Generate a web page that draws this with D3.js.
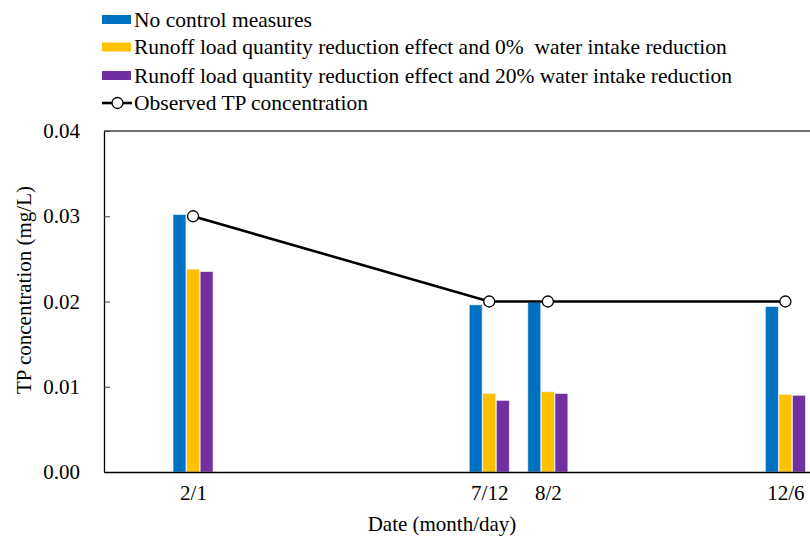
<!DOCTYPE html>
<html>
<head>
<meta charset="utf-8">
<script src="https://cdn.jsdelivr.net/npm/d3@7"></script>
<style>
  body { margin: 0; background: #fff; }
</style>
</head>
<body>
<svg></svg>
<script>
// data
var dateLabels = ["2/1", "7/12", "8/2", "12/6"];
// where each date sits along the axis (in days)
var datePos = [32, 186, 216.5, 340];
var noControl = [0.0302, 0.0196, 0.0199, 0.0194];
var reduce0 = [0.0238, 0.0092, 0.0094, 0.0091];
var reduce20 = [0.0235, 0.0084, 0.0092, 0.0090];
var observed = [0.03, 0.02, 0.02, 0.02];
var yTicks = [0, 0.01, 0.02, 0.03, 0.04];

var seriesNames = [
  "No control measures",
  "Runoff load quantity reduction effect and 0%  water intake reduction",
  "Runoff load quantity reduction effect and 20% water intake reduction"
];
var seriesColors = ["#0070C0", "#FFC000", "#7030A0"];
var seriesValues = [noControl, reduce0, reduce20];
var lineName = "Observed TP concentration";

var svgWidth = 810, svgHeight = 540, fontSize = 21, legendFont = 21.5;
var serif = "'Liberation Serif', 'Times New Roman', Times, 'DejaVu Serif', serif";
var plotLeft = 104, plotTop = 131, plotRight = 810, plotBottom = 472;

var svg = d3.select("svg")
  .attr("width", svgWidth)
  .attr("height", svgHeight)
  .style("font-family", serif);

var xScale = d3.scaleLinear()
  .domain([-14.3, 352.8])
  .range([plotLeft, plotRight]);
var yScale = d3.scaleLinear()
  .domain([0, 0.04])
  .range([plotBottom, plotTop]);
// offset of each series inside a date group
var inner = d3.scaleBand()
  .domain([0, 1, 2])
  .range([-20, 20])
  .paddingInner(0.05);

// frame top line
svg.append("line")
  .attr("x1", plotLeft).attr("x2", plotRight)
  .attr("y1", plotTop).attr("y2", plotTop)
  .attr("stroke", "#404040").attr("stroke-width", 1.3);

// bars
seriesValues.forEach(function (vals, s) {
  svg.append("g").selectAll("rect")
    .data(vals)
    .enter()
    .append("rect")
    .attr("x", function (d, i) { return xScale(datePos[i]) + inner(s); })
    .attr("y", function (d) { return yScale(d); })
    .attr("width", inner.bandwidth())
    .attr("height", function (d) { return plotBottom - yScale(d); })
    .attr("fill", seriesColors[s])
    .attr("stroke", "#e8eef6")
    .attr("stroke-width", 0.6);
});

// y axis
var y_axis = d3.axisLeft(yScale)
  .tickValues(yTicks)
  .tickFormat(d3.format(".2f"))
  .tickSizeInner(-6)
  .tickSizeOuter(0)
  .tickPadding(24);
var yg = svg.append("g")
  .attr("transform", "translate(" + plotLeft + ",0)")
  .call(y_axis)
  .attr("font-family", serif);
yg.select(".domain").attr("stroke", "#000").attr("stroke-width", 1.3);
yg.selectAll(".tick line").attr("stroke", "#404040");
yg.selectAll("text").attr("font-size", fontSize).attr("fill", "#000");

// x axis
var x_axis = d3.axisBottom(xScale)
  .tickValues(datePos)
  .tickFormat(function (d, i) { return dateLabels[i]; })
  .tickSize(0)
  .tickPadding(13);
var xg = svg.append("g")
  .attr("transform", "translate(0," + plotBottom + ")")
  .call(x_axis)
  .attr("font-family", serif);
xg.select(".domain").attr("stroke", "#000").attr("stroke-width", 1.3);
xg.selectAll("text").attr("font-size", fontSize).attr("fill", "#000");

// observed line
var line = d3.line()
  .x(function (d, i) { return xScale(datePos[i]); })
  .y(function (d) { return yScale(d); });
svg.append("path")
  .datum(observed)
  .attr("d", line)
  .attr("fill", "none")
  .attr("stroke", "#000")
  .attr("stroke-width", 2.6);
svg.append("g").selectAll("circle")
  .data(observed)
  .enter()
  .append("circle")
  .attr("cx", function (d, i) { return xScale(datePos[i]); })
  .attr("cy", function (d) { return yScale(d); })
  .attr("r", 5.5)
  .attr("fill", "#fff")
  .attr("stroke", "#000")
  .attr("stroke-width", 1.3);

// axis titles
svg.append("text")
  .attr("x", 442).attr("y", 531)
  .attr("text-anchor", "middle")
  .attr("font-size", fontSize)
  .text("Date (month/day)");
svg.append("text")
  .attr("transform", "translate(31,290) rotate(-90)")
  .attr("text-anchor", "middle")
  .attr("font-size", fontSize)
  .text("TP concentration (mg/L)");

// legend
var legend = svg.append("g");
var rowY = [19.5, 47, 75.5, 103];
seriesNames.forEach(function (name, s) {
  legend.append("rect")
    .attr("x", 102).attr("y", rowY[s] - 4.5)
    .attr("width", 29).attr("height", 9)
    .attr("fill", seriesColors[s]);
  legend.append("text")
    .attr("x", 134).attr("y", rowY[s] + 7)
    .attr("font-size", legendFont)
    .style("white-space", "pre")
    .text(name);
});
legend.append("line")
  .attr("x1", 102).attr("x2", 132)
  .attr("y1", rowY[3]).attr("y2", rowY[3])
  .attr("stroke", "#000").attr("stroke-width", 2.6);
legend.append("circle")
  .attr("cx", 117.5).attr("cy", rowY[3]).attr("r", 5.5)
  .attr("fill", "#fff").attr("stroke", "#000").attr("stroke-width", 1.3);
legend.append("text")
  .attr("x", 134).attr("y", rowY[3] + 7)
  .attr("font-size", legendFont)
  .text(lineName);
</script>
</body>
</html>
